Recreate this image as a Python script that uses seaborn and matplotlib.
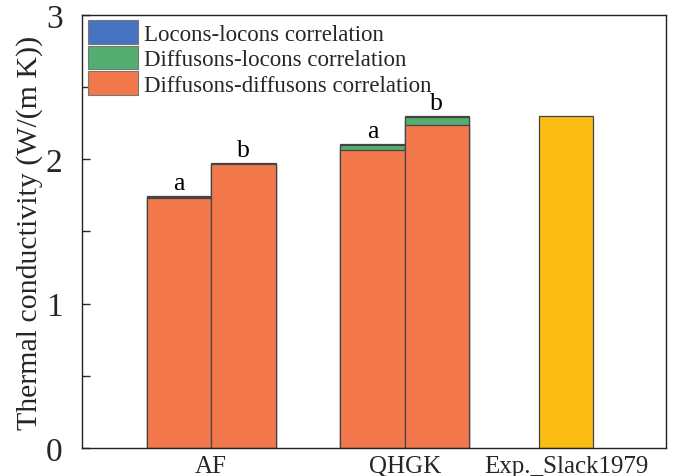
import numpy as np
import pandas as pd
import seaborn as sns
import matplotlib.pyplot as plt
from matplotlib.patches import Patch
from matplotlib.ticker import MultipleLocator

sns.set_theme(style="ticks")
plt.rcParams["font.family"] = ["Liberation Serif", "DejaVu Serif"]

# Thermal conductivity contributions, W/(m K)
methods = ["AF", "AF", "QHGK", "QHGK"]
variants = ["a", "b", "a", "b"]
bar_pos = [0, 1, 3, 4]
diff_diff = [1.735, 1.965, 2.062, 2.239]
diff_locon = [0.003, 0.000, 0.038, 0.054]
locon_locon = [0.008, 0.012, 0.008, 0.008]

exp_label = "Exp._Slack1979"
exp_pos = 6
exp_value = 2.30

group_labels = ["AF", "QHGK", exp_label]
group_pos = [0.5, 3.5, 6]

c_blue = "#4674c0"
c_green = "#56ad72"
c_orange = "#f2784b"
c_yellow = "#fbbd14"
edge = "#444444"

df = pd.DataFrame({
    "pos": bar_pos,
    "variant": variants,
    "dd": diff_diff,
    "dd_dl": np.add(diff_diff, diff_locon),
    "total": np.add(np.add(diff_diff, diff_locon), locon_locon),
})

fig = plt.figure(figsize=(6.89, 4.77), dpi=100)
ax = fig.add_axes([0.119, 0.0587, 0.8476, 0.9078])

# stacked layers drawn back to front from cumulative sums
for col, color in [("total", c_blue), ("dd_dl", c_green), ("dd", c_orange)]:
    sns.barplot(data=df, x="pos", y=col, native_scale=True, width=1.0,
                color=color, saturation=1, edgecolor=edge, linewidth=0.9,
                errorbar=None, ax=ax)

exp_df = pd.DataFrame({"pos": [exp_pos], "val": [exp_value]})
sns.barplot(data=exp_df, x="pos", y="val", native_scale=True, width=0.84,
            color=c_yellow, saturation=1, edgecolor=edge, linewidth=0.9,
            errorbar=None, ax=ax)

for p, v, t in zip(df["pos"], df["variant"], df["total"]):
    ax.annotate(v, (p, t), xytext=(0, 5), textcoords="offset points",
                ha="center", va="baseline", fontsize=18.5, color="black")

ax.set_xlim(-1.5, 7.55)
ax.set_ylim(0, 3)
ax.set_xticks(group_pos)
ax.set_xticklabels(group_labels)
ax.yaxis.set_major_locator(MultipleLocator(1))
ax.yaxis.set_minor_locator(MultipleLocator(0.5))
ax.tick_params(axis="x", length=0, pad=5, labelsize=18)
ax.tick_params(axis="y", which="both", direction="in", length=6, width=1,
               pad=14, labelsize=24, left=True, right=False)
ax.set_xlabel("")
ax.set_ylabel("Thermal conductivity (W/(m K))", fontsize=21.5, labelpad=2)
for s in ax.spines.values():
    s.set_visible(True)
    s.set_linewidth(1.0)
    s.set_color("#222222")

handles = [Patch(facecolor=c_blue, edgecolor="#777777", linewidth=0.8),
           Patch(facecolor=c_green, edgecolor="#777777", linewidth=0.8),
           Patch(facecolor=c_orange, edgecolor="#777777", linewidth=0.8)]
labels = ["Locons-locons correlation", "Diffusons-locons correlation",
          "Diffusons-diffusons correlation"]
ax.legend(handles, labels, loc="upper left", bbox_to_anchor=(0.0103, 0.988),
          frameon=False, borderpad=0, borderaxespad=0, fontsize=16.5,
          handlelength=2.17, handleheight=1.2, labelspacing=0.05,
          handletextpad=0.28)

fig.savefig("out.png", dpi=100)
